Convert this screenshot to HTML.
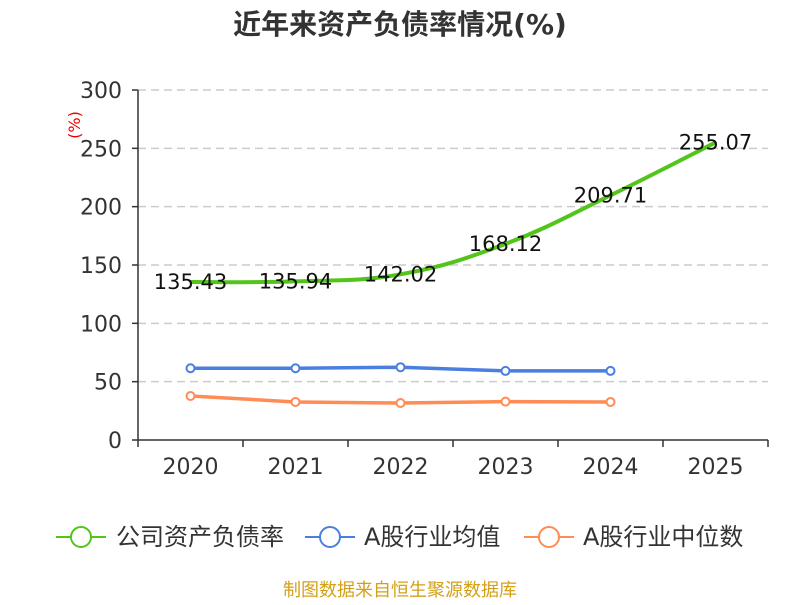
<!DOCTYPE html>
<html><head><meta charset="utf-8"><style>
body{margin:0;background:#fff;}
svg text{font-family:"DejaVu Sans","Noto Sans CJK SC",sans-serif;}
</style></head><body>
<svg id="c" width="800" height="600">
<text x="400" y="34" text-anchor="middle" font-size="28" font-weight="bold" fill="#333">近年来资产负债率情况(%)</text>
<text x="80" y="125" font-size="16" fill="#e00" transform="rotate(-90 80 125)" text-anchor="middle">(%)</text>
<g id="grid"></g><g id="axes"></g><g id="series"></g>
<g>
<g><line x1="56" y1="537" x2="106" y2="537" stroke="#52c41a" stroke-width="2"/><circle cx="81" cy="537" r="10" fill="#fff" stroke="#52c41a" stroke-width="2"/><text x="116" y="545" font-size="24" fill="#333">公司资产负债率</text></g>
<g><line x1="305" y1="537" x2="355" y2="537" stroke="#4a7fe0" stroke-width="2"/><circle cx="330" cy="537" r="10" fill="#fff" stroke="#4a7fe0" stroke-width="2"/><text x="364" y="545" font-size="24" fill="#333">A股行业均值</text></g>
<g><line x1="524" y1="537" x2="574" y2="537" stroke="#ff8c55" stroke-width="2"/><circle cx="549" cy="537" r="10" fill="#fff" stroke="#ff8c55" stroke-width="2"/><text x="583" y="545" font-size="24" fill="#333">A股行业中位数</text></g>
</g>
<text x="400" y="596" text-anchor="middle" font-size="18" fill="#d4a017">制图数据来自恒生聚源数据库</text>
</svg>
<script>
const categories=["2020","2021","2022","2023","2024","2025"];
const yTicks=[0,50,100,150,200,250,300];
const company=[135.43,135.94,142.02,168.12,209.71,255.07];
const industryAvg=[61.5,61.5,62.4,59.2,59.2];
const industryMedian=[37.7,32.6,31.7,32.9,32.6];
const NS="http://www.w3.org/2000/svg";
const x0=138,x1=768,y0=440,y1=90,yMax=300;
const bw=(x1-x0)/categories.length;
const X=i=>x0+bw*(i+0.5);
const Y=v=>y0-(v/yMax)*(y0-y1);
function mk(t,a,p){const e=document.createElementNS(NS,t);for(const k in a)e.setAttribute(k,a[k]);p.appendChild(e);return e;}
const g=document.getElementById('grid'),ax=document.getElementById('axes'),s=document.getElementById('series');
yTicks.forEach(v=>{
 if(v>0){const l=mk('line',{x1:x0,x2:x1,y1:Y(v),y2:Y(v),stroke:'#ccc','stroke-dasharray':'8,5','stroke-width':1.5},g);
 
 }
 mk('line',{x1:x0-6,x2:x0,y1:Y(v),y2:Y(v),stroke:'#333','stroke-width':1.5},ax);
 const t=mk('text',{x:x0-16,y:Y(v)+8,'text-anchor':'end','font-size':22,fill:'#333'},ax);t.textContent=v;
 
 
});
mk('line',{x1:x0,x2:x0,y1:y1,y2:y0,stroke:'#333','stroke-width':1.5},ax);
mk('line',{x1:x0,x2:x1,y1:y0,y2:y0,stroke:'#333','stroke-width':1.5},ax);
for(let i=0;i<=categories.length;i++)mk('line',{x1:x0+bw*i,x2:x0+bw*i,y1:y0,y2:y0+7,stroke:'#333','stroke-width':1.5},ax);
categories.forEach((c,i)=>{const t=mk('text',{x:X(i),y:474,'text-anchor':'middle','font-size':22,fill:'#333'},ax);t.textContent=c;
 
 });
function smooth(pts){let d=`M${pts[0][0]},${pts[0][1]}`;for(let i=0;i<pts.length-1;i++){const p0=pts[i-1]||pts[i],p1=pts[i],p2=pts[i+1],p3=pts[i+2]||p2;const k=0.2;
 d+=` C${p1[0]+(p2[0]-p0[0])*k},${p1[1]+(p2[1]-p0[1])*k} ${p2[0]-(p3[0]-p1[0])*k},${p2[1]-(p3[1]-p1[1])*k} ${p2[0]},${p2[1]}`;}return d;}
const cp=company.map((v,i)=>[X(i),Y(v)]);
const cl=mk('path',{d:smooth(cp),fill:'none',stroke:'#52c41a','stroke-width':4},s);


company.forEach((v,i)=>{const t=mk('text',{x:X(i),y:Y(v)+7,'text-anchor':'middle','font-size':21,fill:'#111'},s);t.textContent=v.toFixed(2);
 
 });
function line(arr,col,name){const p=mk('polyline',{points:arr.map((v,i)=>X(i)+','+Y(v)).join(' '),fill:'none',stroke:col,'stroke-width':3.5},s);
 
 
 arr.forEach((v,i)=>{const c=mk('circle',{cx:X(i),cy:Y(v),r:4,fill:'#fff',stroke:col,'stroke-width':2},s);
 
 });}
line(industryAvg,'#4a7fe0','industry-avg');
line(industryMedian,'#ff8c55','industry-median');
</script>
</body></html>
